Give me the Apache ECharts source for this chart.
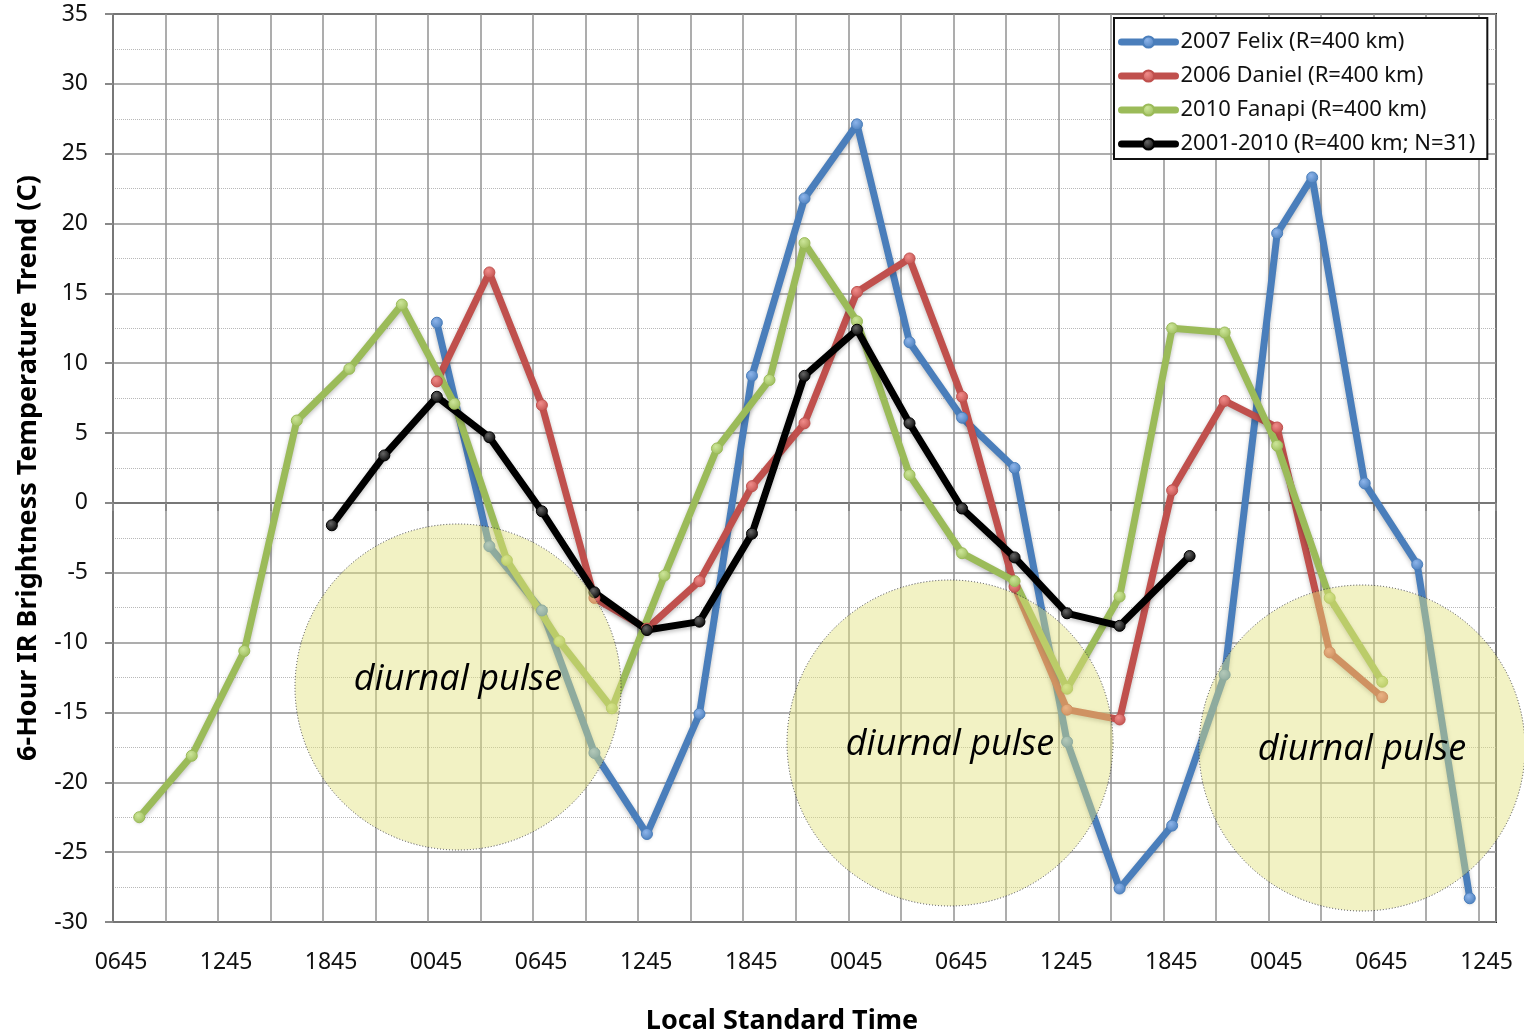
<!DOCTYPE html>
<html>
<head>
<meta charset="utf-8">
<title>6-Hour IR Brightness Temperature Trend</title>
<script src="https://cdn.jsdelivr.net/npm/echarts@6/dist/echarts.min.js"></script>
<style>
  html, body { margin: 0; padding: 0; background: #fff; }
  #chart { width: 1524px; height: 1036px; }
</style>
</head>
<body>
<div id="chart"></div>
<script>
// x values are hours after 0645 LST on the first day
var timeLabels = ["0645", "1245", "1845", "0045", "0645", "1245", "1845",
  "0045", "0645", "1245", "1845", "0045", "0645", "1245"];

var felixHours = [18.5, 21.5, 24.5, 27.5, 30.5, 33.5, 36.5, 39.5, 42.5, 45.5, 48.5,
  51.5, 54.5, 57.5, 60.5, 63.5, 66.5, 68.5, 71.5, 74.5, 77.5];
var felixTrend = [12.9, -3.1, -7.7, -17.9, -23.7, -15.1, 9.1, 21.8, 27.1, 11.5, 6.1,
  2.5, -17.1, -27.6, -23.1, -12.3, 19.3, 23.3, 1.4, -4.4, -28.3];

var danielHours = [18.5, 21.5, 24.5, 27.5, 30.5, 33.5, 36.5, 39.5, 42.5, 45.5, 48.5,
  51.5, 54.5, 57.5, 60.5, 63.5, 66.5, 69.5, 72.5];
var danielTrend = [8.7, 16.5, 7.0, -6.8, -9.0, -5.6, 1.2, 5.7, 15.1, 17.5, 7.6,
  -6.0, -14.8, -15.5, 0.9, 7.3, 5.4, -10.7, -13.9];

var fanapiHours = [1.5, 4.5, 7.5, 10.5, 13.5, 16.5, 19.5, 22.5, 25.5, 28.5, 31.5, 34.5,
  37.5, 39.5, 42.5, 45.5, 48.5, 51.5, 54.5, 57.5, 60.5, 63.5, 66.5, 69.5, 72.5];
var fanapiTrend = [-22.5, -18.1, -10.6, 5.9, 9.6, 14.2, 7.1, -4.1, -9.9, -14.7, -5.2, 3.9,
  8.8, 18.6, 13.0, 2.0, -3.6, -5.6, -13.3, -6.7, 12.5, 12.2, 4.1, -6.8, -12.8];

var compositeHours = [12.5, 15.5, 18.5, 21.5, 24.5, 27.5, 30.5, 33.5, 36.5, 39.5, 42.5,
  45.5, 48.5, 51.5, 54.5, 57.5, 61.5];
var compositeTrend = [-1.6, 3.4, 7.6, 4.7, -0.6, -6.4, -9.1, -8.5, -2.2, 9.1, 12.4,
  5.7, -0.4, -3.9, -7.9, -8.8, -3.8];

var FONT = "Noto Sans";

function pairs(hours, vals) {
  return hours.map(function (h, i) { return [h, vals[i]]; });
}

function storm(name, hours, vals, line, light) {
  return {
    name: name,
    type: "line",
    data: pairs(hours, vals),
    symbol: "circle",
    symbolSize: 11,
    lineStyle: {
      width: 7,
      color: line,
      cap: "round",
      join: "round",
      shadowColor: "rgba(0,0,0,0.25)",
      shadowBlur: 4,
      shadowOffsetY: 2
    },
    itemStyle: {
      color: new echarts.graphic.RadialGradient(0.4, 0.35, 0.7, [
        { offset: 0, color: light },
        { offset: 1, color: line }
      ]),
      borderColor: line,
      borderWidth: 1
    },
    emphasis: { disabled: true }
  };
}

var chart = echarts.init(document.getElementById("chart"));

function pulse(cx, cy, ty) {
  return [
    {
      type: "circle",
      z: 20,
      shape: { cx: cx, cy: cy, r: 163 },
      style: {
        fill: "rgba(226,226,125,0.45)",
        stroke: "#444",
        lineWidth: 1,
        lineDash: [1, 2]
      }
    },
    {
      type: "text",
      z: 21,
      x: cx,
      y: ty,
      style: {
        text: "diurnal pulse",
        fontSize: 36,
        fontStyle: "italic",
        fontFamily: "Open Sans",
        fill: "#000",
        align: "center",
        verticalAlign: "middle"
      }
    }
  ];
}

chart.setOption({
  animation: false,
  backgroundColor: "#fff",
  grid: {
    left: 113, right: 28, top: 14, bottom: 114,
    outerBoundsMode: "none",
    show: true, borderColor: "#222", borderWidth: 2
  },
  legend: {
    left: 1114,
    top: 18,
    orient: "vertical",
    backgroundColor: "#fff",
    borderColor: "#111",
    borderWidth: 2,
    padding: [13, 12, 4, 4],
    itemWidth: 54,
    itemHeight: 14,
    itemGap: 12,
    lineStyle: { width: 7 },
    textStyle: { fontSize: 22, fontFamily: FONT, color: "#111", lineHeight: 22 }
  },
  xAxis: {
    type: "value",
    min: 0,
    max: 79,
    interval: 3,
    name: "Local Standard Time",
    nameLocation: "middle",
    nameGap: 86,
    nameTextStyle: {
      fontSize: 27, fontWeight: "bold", fontFamily: FONT, color: "#000",
      padding: [0, 45, 0, 0]
    },
    axisLine: { lineStyle: { color: "#777", width: 2 } },
    axisTick: { length: 8, lineStyle: { color: "#888", width: 2 } },
    axisLabel: {
      fontSize: 23, fontFamily: FONT, color: "#111", margin: 29,
      padding: [0, 0, 0, 16],
      formatter: function (v) {
        return v % 6 === 0 ? timeLabels[v / 6] : "";
      }
    },
    splitLine: { lineStyle: { color: "#929292", width: 1.5 } }
  },
  yAxis: {
    type: "value",
    min: -30,
    max: 35,
    interval: 5,
    name: "6-Hour IR Brightness Temperature Trend (C)",
    nameLocation: "middle",
    nameGap: 71,
    nameTextStyle: { fontSize: 27, fontWeight: "bold", fontFamily: FONT, color: "#000" },
    axisLine: { show: true, lineStyle: { color: "#777", width: 2 } },
    axisTick: { show: true, length: 8, lineStyle: { color: "#888", width: 2 } },
    axisLabel: { fontSize: 23, fontFamily: FONT, color: "#111", margin: 25, padding: [6, 0, 0, 0] },
    splitLine: { lineStyle: { color: "#929292", width: 1.5 } },
    minorTick: { show: false, splitNumber: 2 },
    minorSplitLine: { show: true, lineStyle: { color: "#b8b8b8", type: "dotted", width: 1 } }
  },
  series: [
    storm("2007 Felix (R=400 km)", felixHours, felixTrend, "#4A7EBB", "#8db4ea"),
    storm("2006 Daniel (R=400 km)", danielHours, danielTrend, "#C0504D", "#f08c8a"),
    storm("2010 Fanapi (R=400 km)", fanapiHours, fanapiTrend, "#9BBB59", "#cde69a"),
    storm("2001-2010 (R=400 km; N=31)", compositeHours, compositeTrend, "#000000", "#666666")
  ],
  graphic: [].concat(pulse(458, 687, 680), pulse(950, 743, 745), pulse(1362, 748, 750))
});
</script>
</body>
</html>
